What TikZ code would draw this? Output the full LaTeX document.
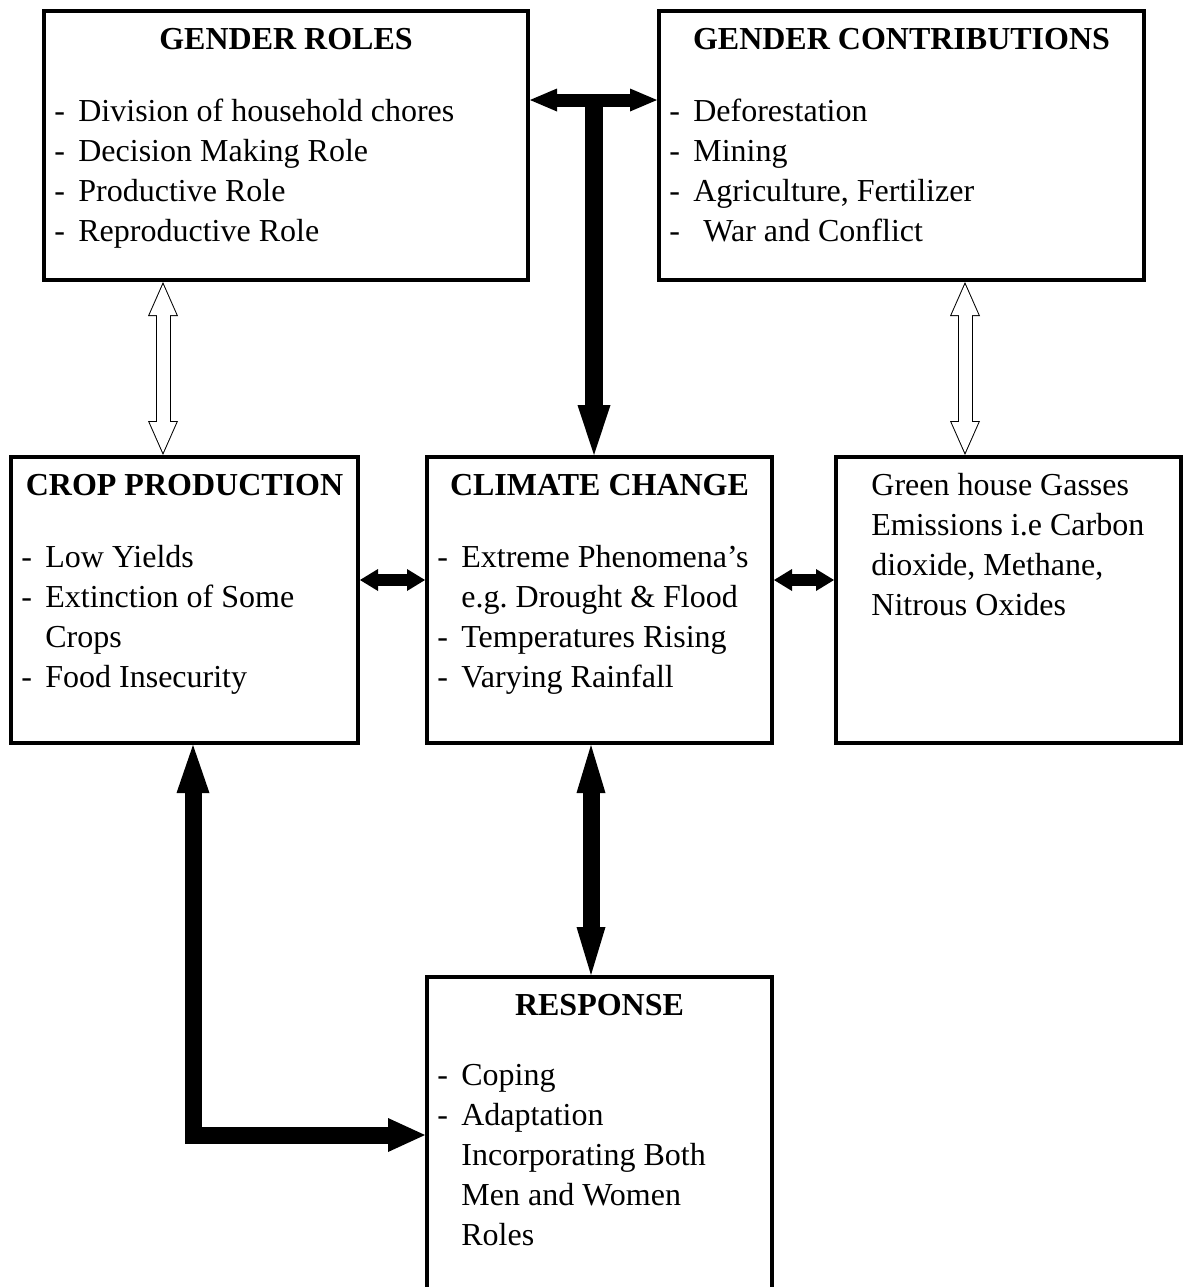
\documentclass[tikz,border=0pt]{standalone}
\usepackage{fontspec}
\setmainfont{Liberation Serif}
\usetikzlibrary{arrows.meta}
\usetikzlibrary{positioning}
\frenchspacing
\newcommand{\dashlist}[1]{\begin{tabular}[t]{@{}p{12pt}@{}l@{}}#1\end{tabular}}
\tikzset{box/.style={draw,line width=2pt,inner sep=0pt,minimum width=172.5pt,minimum height=143pt},
            title/.style={font=\fontsize{16}{20}\selectfont\bfseries,inner sep=0pt,anchor=base},
            list/.style={font=\fontsize{16}{20}\selectfont,inner sep=0pt,anchor=base west},
            tee bar/.style={line width=6.5pt,{Triangle[length=13.5pt,width=11.5pt,line width=0pt]}-{Triangle[length=13.5pt,width=11.5pt,line width=0pt]}},
            tee stem/.style={line width=9pt,-{Triangle[length=25pt,width=16.5pt,line width=0pt]}},
            side arrow/.style={line width=6pt,{Triangle[length=9pt,width=11pt,line width=0pt]}-{Triangle[length=9pt,width=11pt,line width=0pt]}},
            fat arrow/.style={line width=8.5pt,{Triangle[length=24pt,width=14.5pt,line width=0pt]}-{Triangle[length=24pt,width=14.5pt,line width=0pt]}},
            corner arrow/.style={line width=8.5pt,line join=miter,{Triangle[length=24pt,width=16.5pt,line width=0pt]}-{Triangle[length=18.5pt,width=17pt,line width=0pt]}},
            open arrow/.style={line width=7.5pt,{Triangle[length=17pt,width=15pt,line width=0pt]}-{Triangle[length=17pt,width=15pt,line width=0pt]},
              postaction={draw=white,line width=6.5pt,shorten <=1.25pt,shorten >=1.25pt,
                {Triangle[length=15.25pt,width=13.5pt,line width=0pt]}-{Triangle[length=15.25pt,width=13.5pt,line width=0pt]}}},
            }

\begin{document}
\begin{tikzpicture}[x=0.5pt,y=-0.5pt]
    \useasboundingbox (0,0) rectangle (1184,1287);

    % boxes
    \node[box,anchor=north west,minimum width=242pt,minimum height=134.5pt] (roles) at (42,9) {};
    \node[box,minimum width=242.5pt,minimum height=134.5pt] (contrib) [right=63.5pt of roles] {};
    \node[box,anchor=north west,minimum width=173.5pt] (crop) at (9,455) {};
    \node[box] (climate) [right=32.5pt of crop] {};
    \node[box] (gases) [right=30pt of climate] {};
    \node[box,minimum height=158pt] (response) [below=115pt of climate] {};

    % titles
    \node[title] (rolesT) at ([yshift=-20pt]roles.north) {GENDER ROLES};
    \node[title] (contribT) at ([yshift=-20pt]contrib.north) {GENDER CONTRIBUTIONS};
    \node[title] (cropT) at ([yshift=-20pt]crop.north) {CROP PRODUCTION};
    \node[title] (climateT) at ([yshift=-20pt]climate.north) {CLIMATE CHANGE};
    \node[title] (responseT) at ([yshift=-20pt]response.north) {RESPONSE};

    % lists
    \node[list] (rolesL) at ([xshift=6pt,yshift=-56pt]roles.north west) {\dashlist{
      - & Division of household chores\\
      - & Decision Making Role\\
      - & Productive Role\\
      - & Reproductive Role}};
    \node[list] (contribL) at ([xshift=6pt,yshift=-56pt]contrib.north west) {\dashlist{
      - & Deforestation\\
      - & Mining\\
      - & Agriculture, Fertilizer\\
      - & \hspace{5pt}War and Conflict}};
    \node[list] (cropL) at ([xshift=6pt,yshift=-56pt]crop.north west) {\dashlist{
      - & Low Yields\\
      - & Extinction of Some\\
        & Crops\\
      - & Food Insecurity}};
    \node[list] (climateL) at ([xshift=6pt,yshift=-56pt]climate.north west) {\dashlist{
      - & Extreme Phenomena’s\\
        & e.g. Drought \& Flood\\
      - & Temperatures Rising\\
      - & Varying Rainfall}};
    \node[list] (gasesL) at ([xshift=18.5pt,yshift=-20pt]gases.north west) {\begin{tabular}[t]{@{}l@{}}
      Green house Gasses\\
      Emissions i.e Carbon\\
      dioxide, Methane,\\
      Nitrous Oxides\end{tabular}};
    \node[list] (responseL) at ([xshift=6pt,yshift=-55pt]response.north west) {\dashlist{
      - & Coping\\
      - & Adaptation\\
        & Incorporating Both\\
        & Men and Women\\
        & Roles}};

    % arrows
    \coordinate (tee) at (594,100);
    \coordinate (leftopen) at (163,0);
    \coordinate (rightopen) at (965,0);
    \coordinate (midline) at (591,0);
    \coordinate (leftline) at (193,0);

    \draw[tee bar] (tee -| roles.east) -- (tee -| contrib.west);
    \draw[tee stem] (tee) -- (tee |- climate.north);
    \draw[open arrow] (leftopen |- roles.south) -- (leftopen |- crop.north);
    \draw[open arrow] (rightopen |- contrib.south) -- (rightopen |- gases.north);
    \draw[side arrow] ([yshift=10pt]crop.east) -- ([yshift=10pt]climate.west);
    \draw[side arrow] ([yshift=10pt]climate.east) -- ([yshift=10pt]gases.west);
    \draw[fat arrow] (midline |- climate.south) -- (midline |- response.north);
    \draw[corner arrow] (leftline |- crop.south) |- (response.west);
\end{tikzpicture}
\end{document}
